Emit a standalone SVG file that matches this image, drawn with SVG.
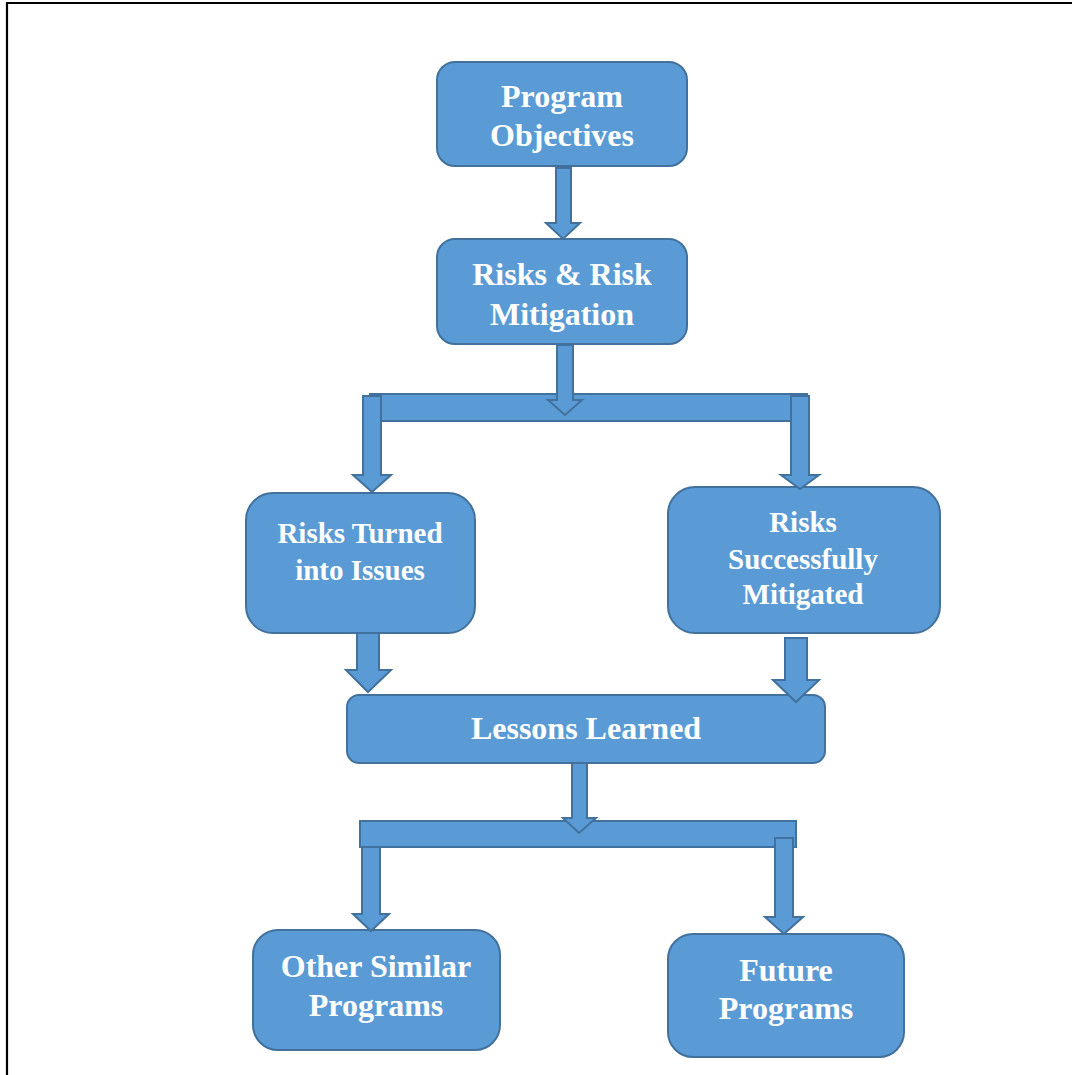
<svg xmlns="http://www.w3.org/2000/svg" width="1072" height="1075" viewBox="0 0 1072 1075">
<style>
.box{fill:#5B9BD5;stroke:#41719C;stroke-width:2}
.arr{fill:#5B9BD5;stroke:#41719C;stroke-width:2;stroke-linejoin:miter}
.t{font-family:"Liberation Serif","Times New Roman",serif;font-weight:bold;fill:#FFFFFF;text-anchor:middle;font-size:32px}
.s{font-size:29px}
.frame{stroke:#000;stroke-width:2.2;fill:none}
</style>
<rect width="1072" height="1075" fill="#FFFFFF"/>
<path class="frame" d="M7 1075 V3 H1072"/>
<g id="n-objectives">
<rect class="box" x="437" y="62" width="250" height="104" rx="18"/>
<text class="t" x="562" y="107">Program</text>
<text class="t" x="562" y="146">Objectives</text>
</g>
<g id="n-risks">
<rect class="box" x="437" y="239" width="250" height="105" rx="18"/>
<text class="t" x="562" y="285">Risks &amp; Risk</text>
<text class="t" x="562" y="325">Mitigation</text>
</g>
<g id="n-issues">
<rect class="box" x="246" y="493" width="229" height="140" rx="27"/>
<text class="t s" x="360" y="543">Risks Turned</text>
<text class="t s" x="360" y="580">into Issues</text>
</g>
<g id="n-mitigated">
<rect class="box" x="668" y="487" width="272" height="146" rx="27"/>
<text class="t s" x="803" y="532">Risks</text>
<text class="t s" x="803" y="569">Successfully</text>
<text class="t s" x="803" y="604">Mitigated</text>
</g>
<g id="n-lessons">
<rect class="box" x="347" y="695" width="478" height="68" rx="12"/>
<text class="t" x="586" y="739">Lessons Learned</text>
</g>
<g id="n-other">
<rect class="box" x="253" y="930" width="247" height="120" rx="25"/>
<text class="t" x="376" y="977">Other Similar</text>
<text class="t" x="376" y="1016">Programs</text>
</g>
<g id="n-future">
<rect class="box" x="668" y="934" width="236" height="123" rx="25"/>
<text class="t" x="786" y="981">Future</text>
<text class="t" x="786" y="1019">Programs</text>
</g>
<g id="connectors">
<polygon class="arr" points="556,168 571,168 571,223 580,223 563,239 546,223 556,223"/>
<rect class="arr" x="370" y="394" width="437" height="27"/>
<polygon class="arr" points="557,345 573,345 573,400 582,400 565,415 548,400 557,400"/>
<polygon class="arr" points="363,396 381,396 381,475 391,475 372,492 353,475 363,475"/>
<polygon class="arr" points="791,396 809,396 809,475 819,475 800,489 781,475 791,475"/>
<polygon class="arr" points="357,633 379,633 379,670 391,670 368,692 346,670 357,670"/>
<polygon class="arr" points="785,638 807,638 807,680 819,680 796,702 773,680 785,680"/>
<rect class="arr" x="360" y="821" width="436" height="26"/>
<polygon class="arr" points="572,763 587,763 587,818 596,818 579,833 563,818 572,818"/>
<polygon class="arr" points="362,847 380,847 380,914 389,914 371,931 353,914 362,914"/>
<polygon class="arr" points="775,838 793,838 793,917 803,917 784,934 765,917 775,917"/>
</g>
</svg>
